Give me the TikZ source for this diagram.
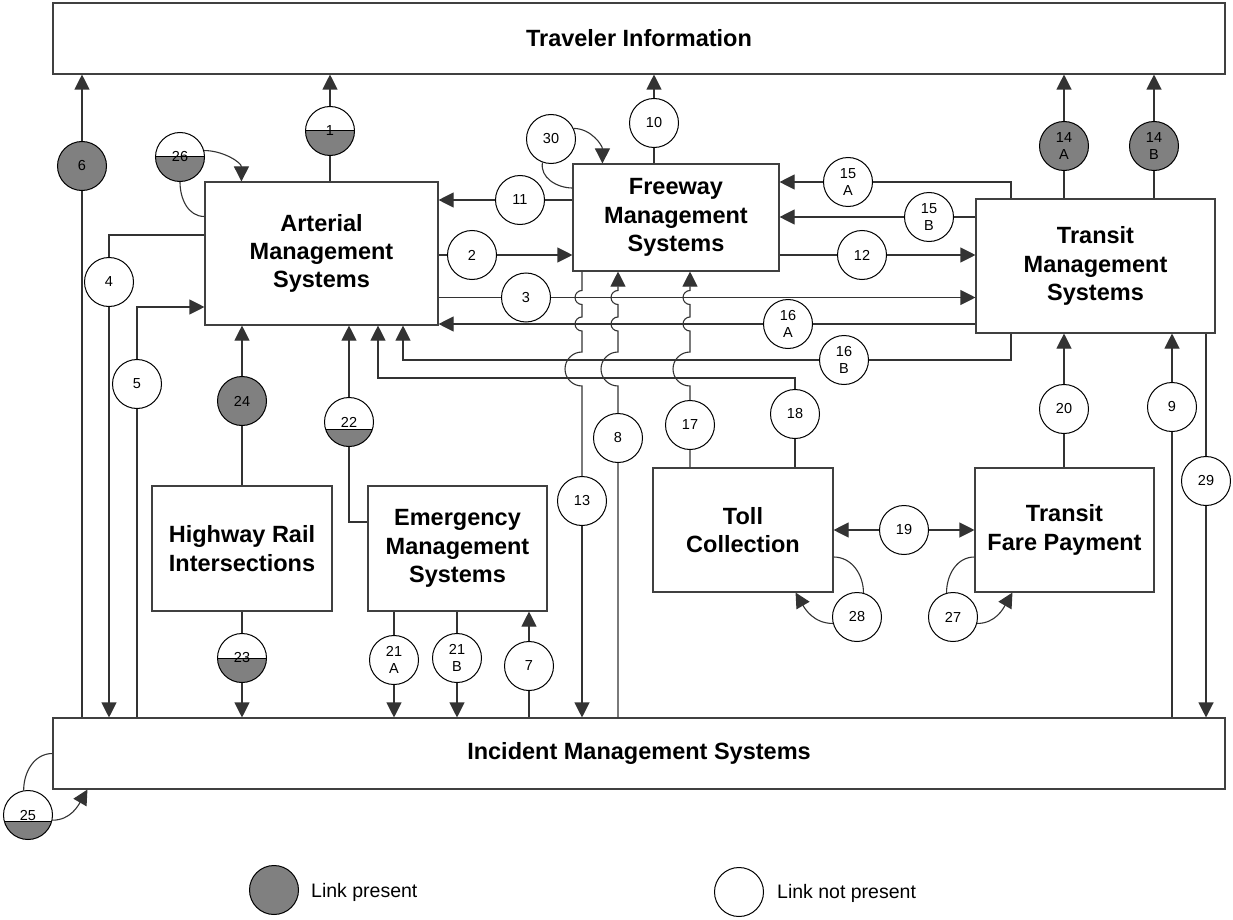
\documentclass[tikz,border=0pt]{standalone}
\usepackage{fontspec}
\setmainfont{Liberation Sans}
\usetikzlibrary{arrows.meta}

\tikzset{
  sysbox/.style={draw=black!75, line width=1.1pt, fill=white, align=center, inner sep=0pt,
    font=\fontsize{23.5}{28.4}\selectfont\bfseries},
  link/.style={circle, draw, line width=1pt, fill=white, minimum size=49pt, inner sep=0pt,
    align=center, font=\fontsize{14.5}{17.5}\selectfont},
  linkon/.style={link, fill=gray},
  linkhalf/.style={link, path picture={
      \fill[gray] ([yshift=#1]path picture bounding box.west) rectangle (path picture bounding box.south east);
      \draw[line width=1pt] ([yshift=#1]path picture bounding box.west) -- ([yshift=#1]path picture bounding box.east);}},
  linkhalf/.default=0pt,
  wire/.style={draw=black!80, line width=1.1pt},
  >={Triangle[length=15pt,width=15pt]}
}

\begin{document}
\begin{tikzpicture}[x=1pt, y=1pt]
    \useasboundingbox (0,0) rectangle (1233,-920);
    % Systems:
    \node[sysbox, minimum width=1172pt, minimum height=71pt] (trav) at (639,-38.5) {Traveler Information};
    \node[sysbox, minimum width=1172pt, minimum height=71pt] (inc) at (639,-753.5) {Incident Management Systems};
    \node[sysbox, minimum width=233pt, minimum height=143pt] (art) at (321.5,-253.5) {Arterial\\Management\\Systems};
    \node[sysbox, minimum width=206pt, minimum height=107pt] (fwy) at (676,-217.5) {Freeway\\Management\\Systems};
    \node[sysbox, minimum width=239pt, minimum height=134pt] (tms) at (1095.5,-266) {Transit\\Management\\Systems};
    \node[sysbox, minimum width=180pt, minimum height=125pt] (hri) at (242,-548.5) {Highway Rail\\Intersections};
    \node[sysbox, minimum width=179pt, minimum height=125pt] (ems) at (457.5,-548.5) {Emergency\\Management\\Systems};
    \node[sysbox, minimum width=180pt, minimum height=124pt] (toll) at (743,-530) {Toll\\Collection};
    \node[sysbox, minimum width=179pt, minimum height=124pt] (fare) at (1064.5,-530) {Transit\\Fare Payment};

    % Links:
    \node[linkhalf=0pt] (c1) at (330,-131) {1};
    \node[link] (c2) at (472,-255) {2};
    \node[link] (c3) at (526,-297.5) {3};
    \node[link] (c4) at (109,-282) {4};
    \node[link] (c5) at (137,-384) {5};
    \node[linkon] (c6) at (82,-166) {6};
    \node[link] (c7) at (529,-666) {7};
    \node[link] (c8) at (618,-438) {8};
    \node[link] (c9) at (1172,-407) {9};
    \node[link] (c10) at (654,-123) {10};
    \node[link] (c11) at (520,-200) {11};
    \node[link] (c12) at (862,-255) {12};
    \node[link] (c13) at (582,-501) {13};
    \node[linkon] (c14A) at (1064,-146) {14\\A};
    \node[linkon] (c14B) at (1154,-146) {14\\B};
    \node[link] (c15A) at (848,-182) {15\\A};
    \node[link] (c15B) at (929,-217) {15\\B};
    \node[link] (c16A) at (788,-324) {16\\A};
    \node[link] (c16B) at (844,-360) {16\\B};
    \node[link] (c17) at (690,-425) {17};
    \node[link] (c18) at (795,-414) {18};
    \node[link] (c19) at (904,-530) {19};
    \node[link] (c20) at (1064,-409) {20};
    \node[link] (c21A) at (394,-660) {21\\A};
    \node[link] (c21B) at (457,-658) {21\\B};
    \node[linkhalf=-7pt] (c22) at (349,-422) {22};
    \node[linkhalf=0pt] (c23) at (242,-658) {23};
    \node[linkon] (c24) at (242,-401) {24};
    \node[linkhalf=-6pt] (c25) at (28,-815) {25};
    \node[linkhalf=0pt] (c26) at (180,-157) {26};
    \node[link] (c27) at (953,-617) {27};
    \node[link] (c28) at (857,-617) {28};
    \node[link] (c29) at (1206,-481) {29};
    \node[link] (c30) at (551,-139) {30};

    % Knees:
    \coordinate (k4) at (109,-235);
    \coordinate (k5) at (137,-307);
    \coordinate (kx) at (1011,0);
    \coordinate (k16) at (403,0);
    \coordinate (k18) at (378,-378);
    \coordinate (k22) at (349,-522);

    % Wires to Traveler Information:
    \draw[wire,->] (inc.north -| c6) -- (c6) -- (c6 |- trav.south);
    \draw[wire,->] (art.north -| c1) -- (c1) -- (c1 |- trav.south);
    \draw[wire,->] (fwy.north -| c10) -- (c10) -- (c10 |- trav.south);
    \draw[wire,->] (tms.north -| c14A) -- (c14A) -- (c14A |- trav.south);
    \draw[wire,->] (tms.north -| c14B) -- (c14B) -- (c14B |- trav.south);

    % Wires between the management systems:
    \draw[wire,->] (fwy.west |- c11) -- (c11) -- (art.east |- c11);
    \draw[wire,->] (art.east |- c2) -- (c2) -- (fwy.west |- c2);
    \draw[wire,->] (art.east |- c3) -- (c3) -- (tms.west |- c3);
    \draw[wire,->] (fwy.east |- c12) -- (c12) -- (tms.west |- c12);
    \draw[wire,->] (tms.north -| kx) |- (c15A) -- (fwy.east |- c15A);
    \draw[wire,->] (tms.west |- c15B) -- (c15B) -- (fwy.east |- c15B);
    \draw[wire,->] (tms.west |- c16A) -- (c16A) -- (art.east |- c16A);
    \draw[wire] (tms.south -| kx) |- (c16B);
    \draw[wire,->] (c16B) -| (art.south -| k16);
    \draw[wire,->] (toll.north -| c18) -- (c18) |- (k18) -- (art.south -| k18);
    \draw[wire,->] (ems.west |- k22) -- (k22) -- (c22) -- (c22 |- art.south);
    \draw[wire,->] (hri.north -| c24) -- (c24) -- (c24 |- art.south);
    \draw[wire,->] (art.west |- k4) -| (c4) -- (c4 |- inc.north);
    \draw[wire,->] (inc.north -| c5) -- (c5) |- (art.west |- k5);

    % Wires with jumps:
    \draw[wire] (fwy.south -| c13) -- (582,-290.5) arc[start angle=90,end angle=270,radius=7]
        -- (582,-317) arc[start angle=90,end angle=270,radius=7]
        -- (582,-352) arc[start angle=90,end angle=270,radius=17] -- (c13);
    \draw[wire,->] (c13) -- (c13 |- inc.north);
    \draw[wire,->] (inc.north -| c8) -- (c8) -- (618,-386) arc[start angle=270,end angle=90,radius=17]
        -- (618,-331) arc[start angle=270,end angle=90,radius=7]
        -- (618,-304.5) arc[start angle=270,end angle=90,radius=7] -- (fwy.south -| c8);
    \draw[wire,->] (toll.north -| c17) -- (c17) -- (690,-386) arc[start angle=270,end angle=90,radius=17]
        -- (690,-331) arc[start angle=270,end angle=90,radius=7]
        -- (690,-304.5) arc[start angle=270,end angle=90,radius=7] -- (fwy.south -| c17);

    % Wires to Incident Management Systems:
    \draw[wire,->] (hri.south -| c23) -- (c23) -- (c23 |- inc.north);
    \draw[wire,->] (ems.south -| c21A) -- (c21A) -- (c21A |- inc.north);
    \draw[wire,->] (ems.south -| c21B) -- (c21B) -- (c21B |- inc.north);
    \draw[wire,->] (inc.north -| c7) -- (c7) -- (c7 |- ems.south);
    \draw[wire,->] (fare.north -| c20) -- (c20) -- (c20 |- tms.south);
    \draw[wire,->] (inc.north -| c9) -- (c9) -- (c9 |- tms.south);
    \draw[wire,->] (tms.south -| c29) -- (c29) -- (c29 |- inc.north);
    \draw[wire,->] (c19) -- (toll.east |- c19);
    \draw[wire,->] (c19) -- (fare.west |- c19);

    % Loops back to the same system:
    \draw[wire] ([yshift=37pt]art.west) to[out=180,in=270] (c26.south);
    \draw[wire,->] (c26.15) to[out=0,in=90] ([xshift=37pt]art.north west);
    \draw[wire] ([yshift=29.5pt]fwy.west) to[out=180,in=-100] (c30.250);
    \draw[wire,->] (c30.25) to[out=0,in=90] ([xshift=30pt]fwy.north west);
    \draw[wire] ([yshift=-27pt]toll.east) to[out=0,in=90] (c28.75);
    \draw[wire,->] (c28.195) to[out=180,in=-60] ([xshift=-38pt]toll.south east);
    \draw[wire] ([yshift=-27pt]fare.west) to[out=180,in=90] (c27.105);
    \draw[wire,->] (c27.-15) to[out=0,in=240] ([xshift=38pt]fare.south west);
    \draw[wire] (inc.west) to[out=180,in=90] (c25.100);
    \draw[wire,->] (c25.-12) to[out=0,in=240] ([xshift=35pt]inc.south west);

    % Key:
    \node[linkon] (keyon) at (274,-890) {};
    \node[anchor=base west, inner sep=0pt, font=\fontsize{19.5}{23}\selectfont] (keyontext) at (311,-897) {Link present};
    \node[link] (keyoff) at (739,-892) {};
    \node[anchor=base west, inner sep=0pt, font=\fontsize{19.5}{23}\selectfont] (keyofftext) at (777,-898) {Link not present};
\end{tikzpicture}
\end{document}
